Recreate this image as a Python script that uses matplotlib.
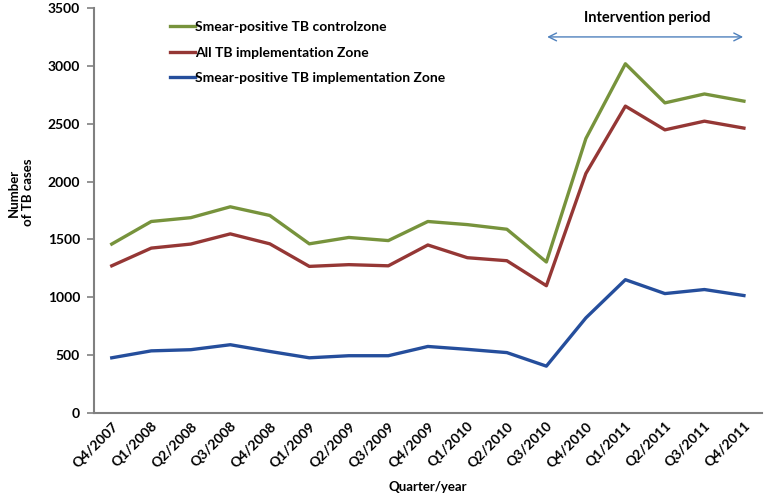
import matplotlib
matplotlib.use("Agg")
import matplotlib.pyplot as plt

plt.rcParams['font.family'] = ['Lato', 'DejaVu Sans']

quarters = ['Q4/2007', 'Q1/2008', 'Q2/2008', 'Q3/2008', 'Q4/2008', 'Q1/2009',
            'Q2/2009', 'Q3/2009', 'Q4/2009', 'Q1/2010', 'Q2/2010', 'Q3/2010',
            'Q4/2010', 'Q1/2011', 'Q2/2011', 'Q3/2011', 'Q4/2011']

# smear-positive TB, control zone
smear_control = [1460, 1655, 1688, 1782, 1707, 1462, 1517, 1490, 1655, 1628,
                 1588, 1305, 2372, 3018, 2680, 2757, 2695]
# all TB, implementation zone
all_impl = [1272, 1425, 1460, 1548, 1462, 1267, 1282, 1272, 1452, 1342,
            1316, 1100, 2070, 2652, 2447, 2522, 2462]
# smear-positive TB, implementation zone
smear_impl = [477, 537, 547, 590, 532, 477, 495, 495, 575, 550,
              522, 405, 822, 1152, 1032, 1067, 1015]

fig = plt.figure(figsize=(7.64, 5.0), dpi=100)
ax = fig.add_axes([0.123, 0.174, 0.874, 0.81])

x = range(len(quarters))
ax.plot(x, smear_control, color='#77933C', lw=2.4, label='Smear-positive TB controlzone')
ax.plot(x, all_impl, color='#953735', lw=2.4, label='All TB implementation Zone')
ax.plot(x, smear_impl, color='#254E9C', lw=2.4, label='Smear-positive TB implementation Zone')

ax.set_xlim(-0.45, 16.45)
ax.set_ylim(0, 3500)
ax.set_yticks(range(0, 3501, 500))
ax.set_xticks(list(x))
ax.set_xticklabels(quarters, rotation=45, ha='right', va='top',
                   rotation_mode='anchor', fontsize=10, fontweight='bold')
for lab in ax.get_yticklabels():
    lab.set_fontsize(10)
    lab.set_fontweight('bold')

for s in ['top', 'right']:
    ax.spines[s].set_visible(False)
for s in ['left', 'bottom']:
    ax.spines[s].set_color('#808080')
    ax.spines[s].set_linewidth(1.5)
ax.tick_params(axis='x', length=0, pad=5)
ax.tick_params(axis='y', length=5, color='#808080', width=1.2, pad=5)

ax.set_xlabel('Quarter/year', fontsize=9.5, fontweight='bold', labelpad=8)
fig.text(0.027, 0.615, 'Number\nof TB cases', rotation=90, ha='center', va='center',
         fontsize=9.5, fontweight='bold', multialignment='center')

leg = ax.legend(loc='upper left', bbox_to_anchor=(0.095, 0.998), frameon=False,
                fontsize=10, handlelength=1.8, handletextpad=0.0, labelspacing=0.95)
for t in leg.get_texts():
    t.set_fontweight('bold')

# intervention period arrow
ax.annotate('', xy=(16.05, 3250), xytext=(10.95, 3250),
            arrowprops=dict(arrowstyle='<->', color='#4F81BD', lw=1.0,
                            mutation_scale=14))
ax.text(13.55, 3410, 'Intervention period', ha='center', va='center',
        fontsize=10.5, fontweight='bold')

fig.savefig('out.png', dpi=100)
